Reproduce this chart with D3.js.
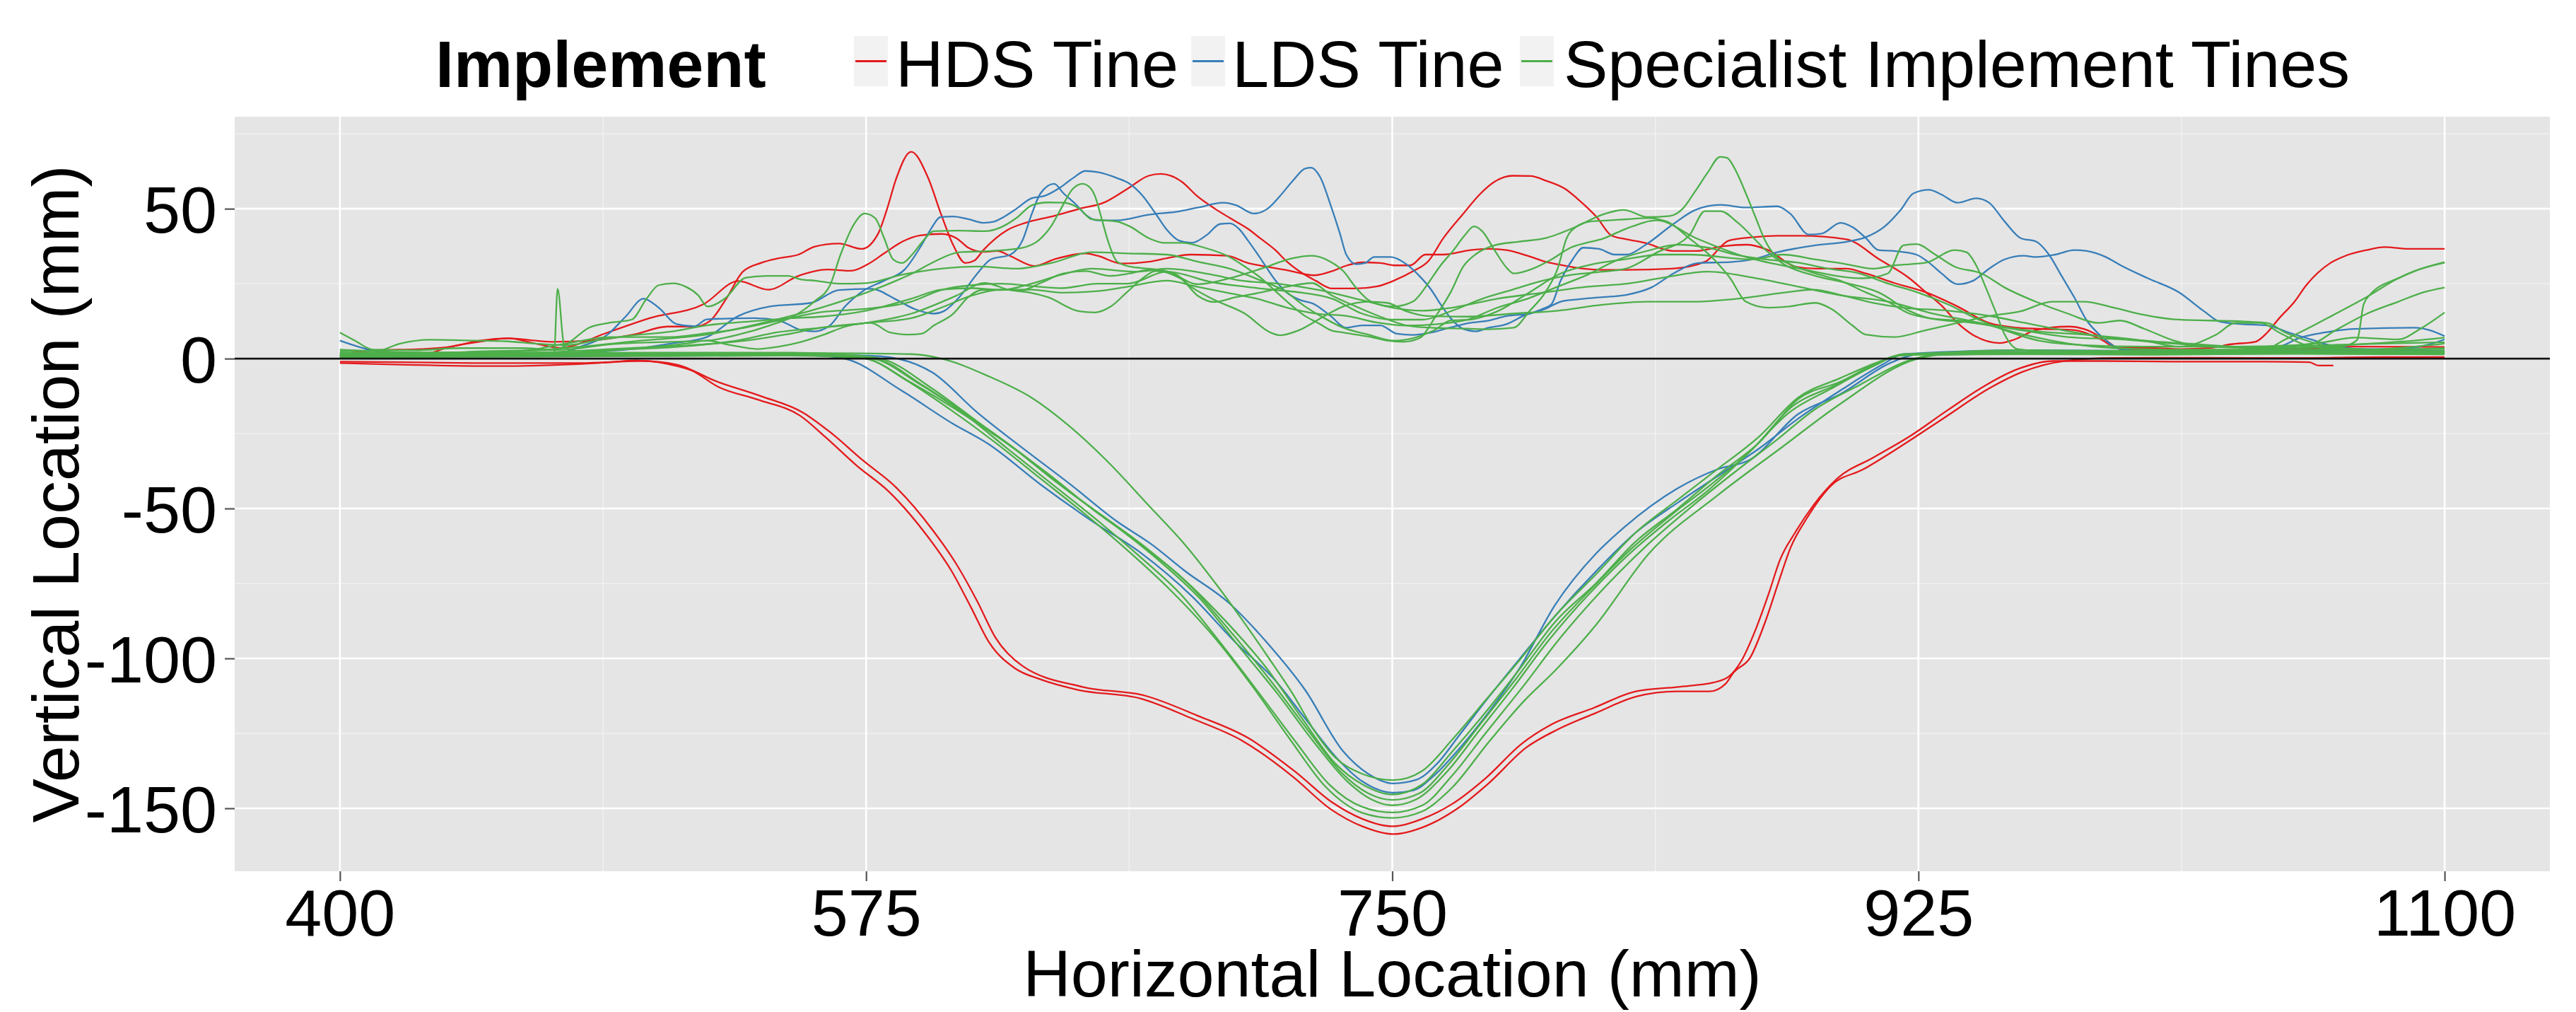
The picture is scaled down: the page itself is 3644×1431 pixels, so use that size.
<!DOCTYPE html>
<html><head><meta charset="utf-8">
<script src="https://cdnjs.cloudflare.com/ajax/libs/d3/7.8.5/d3.min.js"></script>
<style>body{margin:0;background:#fff}svg{display:block}</style>
</head><body><svg id="chart" width="3644" height="1431"></svg>
<script>
// ---------------- DATA ----------------
const implementNames = ["HDS Tine", "LDS Tine", "Specialist Implement Tines"];
const implementColors = ["#E41A1C", "#377EB8", "#4DAF4A"];
const xTicks = [400, 575, 750, 925, 1100];
const xMinor = [487.5, 662.5, 837.5, 1012.5];
const yTicks = [-150, -100, -50, 0, 50];
const yMinor = [-125, -75, -25, 25, 75];

// HDS Tine – soil surface profiles [horizontal mm, vertical mm]
const hdsSurfaceA = [[400,1.3],[412,2.8],[427,3.2],[437,4],[446.5,6],[456,6.8],[465,6],[471,5.6],[483,6],[497.6,8],[509,10.7],[518,10.7],[523,12.5],[528.5,20],[534,29],[540,31.9],[546,33.5],[552.5,34.7],[558,37.4],[566,38.4],[573.5,36.6],[579,41.7],[582,50],[585,60],[590,69],[595.5,60.6],[600,48],[604,37.8],[608,31.9],[611,32.7],[614,36.2],[622,42.9],[628,45.3],[637.5,47.6],[646,50],[654,52],[662,56.7],[669,61],[673,61.6],[680,59],[685,54.3],[691,50],[696,46.9],[702,43.3],[706,40.2],[711,36.3],[715,32.3],[719,29.2],[724.5,26],[730,23.4],[738,23.4],[745,24.1],[750.5,26],[757,29.2],[762,32.5],[767,40.2],[774,48.8],[779,54.7],[784,59],[790,61],[796,60.9],[801,59.4],[808,56.3],[811.4,53.5],[818,47.2],[823,41],[828,39.8],[834,38.6],[843.5,35.9],[851,35.9],[860,37.5],[868,38],[875,36.2],[884,30.7],[891,30],[901,30],[907.5,28.4],[917,25.2],[927.5,22.1],[938,17.4],[948.5,11.9],[958,10.3],[966,9.9],[977,9.5],[985.7,6.4],[991,3.6],[1001,3.6],[1012,3.2],[1022,3.6],[1029,4.8],[1037,5.6],[1041,8.7],[1045,13.5],[1050,18.9],[1054,24.5],[1062,31.9],[1067,34.3],[1074,36.2],[1080,37.2],[1088,36.6],[1100,36.6]];
const hdsSurfaceB = [[400,0.5],[415,1],[427,1.3],[437,4],[447,5.7],[456,6.8],[465,5],[473,3.6],[489,8.7],[503,13.5],[521,18.2],[532.5,25.9],[542.5,23],[552.5,27.6],[562,29.7],[570,29.3],[575.6,31.5],[581,35.1],[587,39],[593,41.1],[600,41.6],[605,40.2],[609,37],[614,35.6],[618.6,35.9],[622.8,34.3],[631,30.9],[637.5,33.1],[648,35.1],[652,34.3],[660,31.7],[669,32.3],[675,33.5],[683,34.7],[695,34.3],[702,31.9],[708,30.7],[715,29.5],[724,27.8],[730,29.2],[735,31.1],[740,32.1],[746,31.9],[751,31.1],[756,31.1],[761,34.7],[767,34.7],[776,36.2],[782,36.6],[788,36.2],[795,34.3],[801,32.3],[807,31.1],[813.5,30],[820,29.6],[828,29.6],[843,30],[854,32.3],[862,39.4],[870,40.5],[878,41],[886,41],[901,39.8],[912,33.1],[922,26.8],[927.5,22.1],[933,17.4],[938,11.9],[943,8],[952,5.2],[957,6.4],[964,9.5],[975,10.7],[980,9.9],[987,6.4],[992,3.2],[1000,2.8],[1020,2.5],[1040,2.8],[1060,3.5],[1070,4],[1100,3.9]];
// HDS Tine – furrow bottom profiles
const hdsFurrowA = [[400,-1.5],[420,-2],[450,-2.5],[470,-2.2],[490,-1.2],[498.5,-0.6],[509,-1.8],[517,-4],[525.8,-9.4],[539,-13.7],[553,-19],[561.5,-26.2],[572,-35.8],[582.5,-44.3],[595,-58.7],[603.4,-70.8],[609.8,-82.8],[616,-94.8],[624.5,-103.3],[633,-107],[645.5,-110.5],[666.4,-113.4],[683.3,-120],[700,-127.4],[716.9,-139.4],[729.4,-150.2],[740,-156],[750.4,-158.6],[761,-156],[771.5,-150.2],[782,-141.7],[794.6,-129.7],[805,-123.7],[817.7,-118.2],[831.2,-112.7],[844.7,-111],[855.5,-111],[860.8,-108.5],[863.6,-104.6],[869,-99.8],[874.4,-86.8],[878.4,-74.8],[882.5,-63],[887.9,-53.2],[895.9,-42.4],[906.7,-36.9],[918.9,-29.4],[933.8,-19.6],[948.6,-9.9],[959.4,-4.5],[974.3,-0.7],[990,0.2],[1020,0.3],[1050,0.2],[1080,0.5],[1100,0.5]];
const hdsFurrowB = [[400,-1],[420,-1.2],[450,-1.5],[480,-1.5],[500,-0.8],[512,-2],[525,-7.5],[540,-12.5],[554,-18],[563,-24.5],[574,-34],[585,-43],[597,-57],[605,-68.5],[612,-81],[618,-93],[627,-102.5],[647,-109.5],[668,-112.5],[685,-119],[702,-126.5],[718,-138],[730,-148],[740,-153.5],[750,-156],[760,-153.5],[770,-148.5],[781,-140],[793,-128.5],[803,-122],[817,-116.5],[831,-111],[845,-109.5],[857,-108],[862,-106],[866,-101],[871,-90],[875,-79],[879,-67],[884,-58],[890,-49],[898,-40],[910,-33],[922,-26],[935,-17],[948,-8.5],[958,-3.5],[970,-0.8],[985,-0.8],[1010,-1],[1040,-1],[1055,-1.2],[1058,-2.3],[1063,-2.3]];

// LDS Tine – soil surface profiles
const ldsSurfaceA = [[400,2],[430,1.2],[460,1],[480,2],[500,3.5],[510,5],[522,7.2],[532.5,14.2],[543,17.4],[556.7,18.6],[566,22.9],[576.6,23.3],[585,19.7],[591,16.6],[597.6,15],[600.8,15.8],[606,20.5],[612,28.4],[616.5,33.1],[623,34.7],[627,39.4],[630,48],[633,55.1],[637.5,58.3],[640.7,55.1],[645,51.2],[648,48],[652,46.1],[658.5,46.1],[669,48],[679.5,49.2],[685.4,50.4],[693.8,52],[698,51.2],[704,48.4],[708.5,50],[712.7,54.3],[717,59.4],[721,63.4],[723,63.7],[726,60.6],[729.5,51.2],[732.6,41.7],[734.7,34.7],[738,31.5],[741,31.9],[744,33.9],[749.4,33.9],[754.7,31.5],[759,27.6],[763,22.9],[766,18.2],[769.4,13.5],[773.6,9.9],[777.8,9.1],[782,10.3],[788,11.5],[793.5,14.2],[800,16.6],[803,18.2],[806,26],[810,33.1],[813.5,37],[818.7,36.6],[824,34.7],[828,34.7],[834,37.8],[843.5,44.9],[850.8,49.6],[859.2,51.3],[867.6,50.4],[878.1,50.8],[882.3,48.4],[888.6,41.4],[892.8,41.7],[899.1,45.3],[903.3,43.7],[907.5,40.2],[911.7,36.2],[917,35.9],[924.3,34.7],[928.5,32],[932.7,28.4],[938,24.8],[943.2,26],[948.5,30],[953.7,33.1],[960,34.3],[964.2,33.9],[970.5,34.7],[976.8,36.2],[981,35.9],[987.3,33.9],[992.3,31.1],[1001.3,26.8],[1011.7,22.1],[1020,15.8],[1025.3,12.3],[1032.6,11.5],[1040.9,11.1],[1048.2,8.7],[1055.5,6.4],[1063.8,4],[1074.2,3.2],[1084.6,3.2],[1095,4.8],[1100,6.4]];
const ldsSurfaceB = [[400,6],[406,4],[412,2.5],[430,1.5],[450,1.2],[470,1],[480,4],[489,8],[495,14],[501,20],[506,17],[512,11.5],[518,10.8],[522,13.1],[537.8,13.5],[546,12.7],[553.5,9.5],[557.7,9.1],[563,11.1],[568,17.4],[574.5,22.9],[581,26],[588,29.9],[593.4,37.8],[596.6,43.3],[599.7,47.2],[604,47.4],[609,46.5],[614,45.3],[617.6,45.7],[620.7,47.2],[625,50],[630,53.5],[634.4,54.3],[639.6,57.1],[643.8,60.2],[648,62.6],[652,62.2],[658.5,60.2],[662.7,58.3],[667,54.3],[671,48.8],[675,43],[679,39.4],[683.3,38.6],[688.5,41.4],[692.7,44.9],[696,45.1],[699,43.3],[702,39.4],[706.4,33.1],[710.6,26.8],[714.8,22.1],[719,19.7],[724,18.2],[729.5,14.2],[734.7,10.3],[740,11.1],[746,11.1],[751.5,8.3],[756.8,7.9],[763,8.7],[769,10.3],[775.7,11.9],[782,12.7],[788,14.2],[795.6,15],[801,16.6],[806,19],[811,19.7],[820,20.5],[828,21.3],[836.1,23.7],[843.5,28.4],[851.9,31.9],[862.4,32.2],[869.7,33.1],[878.1,35.5],[890.7,37.8],[901.2,39],[907.5,40.5],[913.8,44.1],[919.1,49.6],[923.3,55.1],[928.5,56.3],[932.7,54.7],[938,52],[944.3,53.5],[948.5,52],[953.7,45.7],[959,40.2],[964.2,39],[968.4,34.7],[972.6,27.6],[976.8,20.5],[981,12.7],[985.2,8],[992.3,3.2],[1000,2.5],[1030,2.5],[1045,4],[1052,7],[1060,8.7],[1070,9.9],[1090,10.3],[1095,9.5],[1100,7.5]];
// LDS Tine – furrow bottom profiles
const ldsFurrowA = [[400,0.5],[450,0.8],[500,1],[540,1.2],[558,1],[567.8,0],[586.7,-10.6],[603.5,-21.5],[616,-28.7],[632.9,-41.9],[649.7,-53.9],[666.4,-64.8],[683.3,-79.2],[698,-94.8],[710.6,-106.8],[721,-120],[731.6,-133.3],[740,-141],[750.4,-144.8],[757,-144],[764,-139],[771.5,-131],[782,-118],[792.5,-103],[804,-82.4],[817.7,-65.1],[827,-56.4],[844.7,-43.4],[858.2,-36.9],[869,-33.7],[885,-18.5],[898.7,-12],[916.2,-1.2],[925,1.5],[960,2],[1000,2.4],[1050,2.2],[1100,2]];
const ldsFurrowB = [[400,1],[450,1.1],[500,1.2],[560,1.3],[575,1],[582.5,0.5],[597,-4.6],[611.8,-17.8],[628.7,-31.1],[643,-42],[658,-54],[670,-62],[681,-70.8],[695.8,-81.6],[708.4,-94.8],[721,-110.5],[733.6,-130.9],[742,-138.5],[750.4,-141.7],[758,-140.5],[765,-135],[772,-126],[782,-113],[792.5,-100],[804,-86],[817.7,-71],[831,-58],[845,-48],[860,-38],[872,-30],[885,-20],[900,-10],[913,-2],[920,1.5],[960,2.8],[1000,2.6],[1050,2.8],[1100,2.6]];

// Specialist Implement Tines – soil surface profiles
const sitSurfaceA = [[400,1],[425,1.5],[450,2.5],[475,3],[490,4.8],[510,5.6],[522,6],[532.5,8],[543,11.1],[551,14.2],[557.7,19],[563,24.5],[566.5,34.7],[571,44.9],[574.5,48.4],[578,46.9],[581,40.2],[584,33.1],[587,31.9],[590.3,34.7],[593.4,38.6],[597.6,42.5],[606,42.7],[614.4,42.5],[619.6,43.7],[625,46.9],[630.2,51.2],[635.4,52.1],[640.7,52],[646,50],[650,46.5],[654.3,46.1],[658.5,45.7],[662.7,44.1],[669,40.2],[674.3,38.6],[680,38.6],[687.5,37],[695.9,33.9],[701,30.7],[706.4,26.8],[711.6,22.1],[716.9,17.4],[721,14.2],[725.3,11.9],[729.5,9.5],[733.7,8.7],[738,8],[743,7.2],[748.4,6],[753.6,5.6],[759,6.8],[764.5,14.2],[769.4,22.1],[773.6,30.7],[778,35],[784,37.8],[792,39],[801,40.2],[811.4,44.1],[819.8,48],[827,49.6],[835,47.2],[842.4,47.6],[846.6,50],[850.8,55.9],[855,62.2],[859,67.3],[861.3,67],[864.5,62.2],[867.6,55.1],[870.8,47.2],[874,39.4],[877,34.7],[882.3,31.5],[890.7,28.4],[899,26],[907.5,22.1],[914.8,19],[922,15],[928.5,13.5],[938,12.7],[950,11],[965,9],[980,8],[1000,6],[1011.7,4],[1024,8],[1030.5,11.9],[1038.8,11.9],[1045,8.7],[1053,4.8],[1060,3.5],[1080,3],[1100,3.5]];
const sitSurfaceB = [[400,3],[430,2],[460,2.5],[480,4],[500,6],[522,8],[545,13],[560,17],[575,22],[585,26],[590.3,28.4],[597.6,32.3],[606,35.5],[616.5,35.9],[627,37],[632.3,39.4],[636.5,44.1],[639.6,49.6],[643.8,56.7],[647,58.3],[649,57.5],[651.1,54.3],[653.2,47.2],[655.4,39.4],[658.5,32.3],[662.7,30.7],[669,30],[674.9,29.2],[685.4,24.8],[695.9,26.8],[706.4,30],[716.9,33.5],[723.2,34.3],[729.5,32.3],[733.7,29.2],[737.9,23.7],[743,19],[750.5,17.4],[756.8,19],[762,25.2],[766,31],[770.4,36.2],[774,41],[777.2,44.1],[779.9,42.5],[784,36.2],[788.3,30],[790.4,28.4],[796.7,30],[803,33.1],[809.3,37],[814.5,38.6],[820,40],[827.7,43.3],[838,46.1],[851,40.2],[867.6,33.9],[885.5,30],[906.5,26.8],[914.8,28.4],[920,37.8],[924.3,38.2],[930.6,34.7],[937,30.7],[946,28.4],[953.7,23.7],[964,19],[974.7,15],[985,11.9],[992,12.7],[1000,10],[1010,6],[1020,4],[1040,3.5],[1060,4],[1075,5],[1090,6],[1100,7]];
const sitSurfaceC = [[400,8.7],[405,6],[411,3],[425,2.8],[440,3.5],[460,3.5],[472,3],[477,6],[482.8,10.3],[489.4,11.9],[497,13],[502,20],[506,24.5],[510.8,25.1],[515,24],[519,21.3],[522.3,17.4],[528,20],[535,27],[542,27.6],[549,27.6],[553,26.5],[558,26],[566,25],[575,25.2],[587,28],[600,30],[612,30.7],[625,30],[637,32],[650,35.5],[662,35.1],[674.9,34.7],[685.4,32.3],[695.9,30],[706.4,26],[713.7,22.9],[721,17.4],[727.4,13.5],[733.7,10.3],[742,8],[750.5,6],[756.8,6.8],[764,9.5],[769.4,12.7],[775.7,13],[785,15.8],[795.6,22.1],[806,28.4],[816.6,31.5],[827,33.1],[839.5,34.7],[848.7,34.7],[869.7,33.1],[880,34.7],[890.7,33.1],[901,31.5],[909.6,30],[917,31.1],[927.5,32],[937,36.2],[941,35.5],[944,31.5],[947.4,23.7],[950.6,15.8],[953.7,8],[958,3.2],[975,2],[1000,2],[1038.8,2.5],[1047,6.4],[1053.4,9.5],[1063.8,15],[1074,20.5],[1084.6,26.8],[1090,29.2],[1100,32.2]];
const sitSurfaceD = [[400,1.5],[425,1],[450,1.5],[468,2],[471.2,1.5],[472.4,23.3],[474.5,4.8],[477,2.5],[490,3],[505,3.5],[522,4.8],[532,6],[545,8.7],[560,10.3],[575,11.9],[590,15],[605,21],[614.4,25.2],[622.8,22.9],[629,22.1],[635.4,20.5],[645.9,15.8],[651.2,15.4],[656.4,17.4],[661.7,22.1],[667,26.8],[671.2,29.2],[677.4,28.4],[683,24],[690.6,19.7],[701,15],[709.5,8.7],[712.7,7.8],[719,9.5],[727.4,14.2],[733.7,17.4],[742.1,19],[748.4,18.6],[754.7,15.8],[762,14.2],[775,14],[790,15],[805,16],[820,18],[835,19],[850,19],[865,20],[880,22],[890,23],[900,21],[910,18.6],[920,17],[935,16],[950,14],[960,12],[970,10],[985,7.5],[1000,6],[1015,5],[1030,4],[1040,3.5],[1055.5,4.8],[1063.8,9.5],[1074.2,15],[1084.6,19],[1092.9,22.1],[1100,23.7]];
const sitSurfaceE = [[400,1],[430,1.8],[460,2.5],[475,5],[490,7.2],[510,7.2],[522,8.5],[530,9.5],[545,12.5],[560,15.5],[575,16.6],[590,19],[600,22.9],[610,24.5],[620,25],[632,24],[640,23.5],[652,25],[662,25],[675,29],[690,25.5],[701,24],[710,23],[720,22],[730,20],[740,15],[750,13],[760,13],[770,16],[780,20],[790,23],[800,26],[810,28],[820,29],[827.7,30],[838.2,35.5],[848.7,41],[854,49.2],[859.2,49.2],[864.5,45.7],[875,35.5],[880.2,31.5],[890.7,27.6],[901.2,25.2],[911.7,22.1],[922.2,15.8],[928.5,13.5],[943.2,11.9],[959,9.5],[974.7,7.2],[992.3,6.4],[1010,5],[1030,4],[1050,4.5],[1060,5.5],[1070,7],[1084.6,6.4],[1092,10],[1100,15.4]];
const sitSurfaceF = [[400,1],[430,1.5],[460,1.8],[490,3.2],[505,4],[515,5],[522,6],[530,4.5],[538.8,3.2],[546,4],[553.5,5.6],[561,8],[568.2,10.7],[576.6,11.9],[583,8.7],[589,8],[593.4,8.3],[597.6,11.1],[604,15],[609,20.5],[613.4,22.9],[620,23],[627,22.9],[633,25.2],[640.7,28.4],[648,29.2],[656,27.6],[662.7,28.4],[669,29.6],[679.5,26.8],[685.4,20.9],[690.6,18.9],[698,20.5],[706.4,22.1],[715,24],[723.2,25.2],[730,21],[737.9,17.4],[746,14],[754.7,11.1],[763,10.3],[775,10],[782,9.8],[790.4,10.3],[795.6,15.8],[800.9,22.1],[805,30],[808,40.2],[811.4,44.1],[815.6,45.7],[822,46.1],[828,46.5],[835,46.9],[841.4,45.7],[848.7,40.2],[857,33.1],[862.4,26.8],[867.6,19],[875,17],[882,17.4],[890.7,18.6],[896,16.6],[903,11.1],[907.5,8],[917,7.2],[927.5,9.5],[938,11.9],[948.5,14.2],[959,15.8],[969.5,19],[980,19],[990,17],[1000,14.6],[1010,13.1],[1022,12.7],[1035,12.3],[1041,11.9],[1047,8.7],[1053,6.4],[1062,4],[1075,3],[1090,4],[1100,5]];
const sitSurfaceG = [[400,2.5],[412,2.5],[420,5],[430,6.3],[445,6],[455,5.8],[465,5],[475,4.5],[485,6],[495,7.5],[510,9],[522,11.1],[537.8,12.5],[550,13.5],[560,14],[575,16],[590,20],[600,23],[610,23.5],[620,22.9],[630,25],[640,28],[650,30],[665,29],[675,30],[690,28],[700,26],[712,25],[725,23],[740,19.5],[750,17],[760,16],[770,17],[785,20],[800,22],[815,24],[828,25],[840,27],[855,29],[870,27],[885,24],[900,21],[915,19],[930,15],[945,12],[960,8],[975,5],[990,3.5],[1010,3],[1030,3],[1050,3.5],[1065,4],[1069,5],[1071,6.4],[1073.1,18.2],[1075.2,21.3],[1085,27],[1090,29.2],[1100,32]];
const sitSurfaceH = [[400,2],[420,1.5],[440,1.2],[460,1.5],[480,2],[500,3.5],[522,4.8],[535,6],[548,8],[560,10.3],[575,11.9],[590,13.5],[600,17],[610,21],[620,23],[630,23],[640,22],[652,22.5],[662,24],[675,26],[685,24],[695,22],[705,20],[715,17],[725,15],[735,14.2],[745,12],[755,11],[765,11.5],[775,13],[785,17],[795,20],[805,24],[815,28],[825,33],[835,36],[845,38],[855,37],[865,34.5],[875,33],[885,32],[895,30],[905,28.5],[915,25],[925,22],[935,18],[945,13],[955,9],[965,6],[980,4.5],[1000,4],[1020,4],[1040,4],[1060,4.5],[1080,5],[1100,5.5]];
// Specialist Implement Tines – furrow bottom profiles
const sitFurrowA = [[400,1],[450,1.2],[500,1.5],[560,1.8],[590,1.5],[599.3,0.2],[616,-6],[630,-13],[642,-22],[655,-34],[669,-49],[681,-62],[692,-76],[700,-87],[709,-100],[717,-112],[724,-124],[731,-133],[740,-138.5],[750.4,-140.6],[760,-137.5],[770,-127],[781,-114],[792,-101],[804,-86],[817.7,-72],[831,-58],[845,-47],[858,-37],[872,-26],[885,-13],[899,-6.5],[912,-1],[920,1.5],[960,2.2],[1000,2],[1050,2.5],[1100,2.5]];
const sitFurrowB = [[400,1.2],[450,1.5],[500,1.8],[550,1.6],[565,1],[575,0],[590,-8],[605,-17],[620,-27],[635,-38],[650,-50],[665,-61],[680,-73],[695,-88],[708,-103],[720,-120],[731,-135],[740,-142],[750,-145.4],[760,-142],[770,-131],[781,-118],[792,-104],[804,-88],[817.7,-75],[831,-61],[845,-50],[858,-39],[872,-28],[885,-13.5],[899,-7.7],[912,-1.2],[920,1.2],[960,1.8],[1000,1.5],[1050,1.8],[1100,1.5]];
const sitFurrowC = [[400,0.6],[450,0.8],[500,1],[550,1.2],[568,0.8],[578,0],[594,-9],[609,-19],[623,-29],[638,-41],[653,-52],[668,-63],[683,-76],[697,-92],[710,-108],[722,-124],[733,-138],[742,-145],[750,-147.2],[759,-145],[769,-135],[780,-121],[791,-107],[803,-91],[816,-77],[830,-63],[843,-52],[856,-42],[870,-30],[883,-16],[897,-9],[911,-2],[918,1],[960,2.8],[1000,2.5],[1050,3],[1100,3.2]];
const sitFurrowD = [[400,1.5],[450,1.8],[500,2],[550,2],[570,1.2],[580,0],[597,-10],[612,-21],[627,-32],[642,-44],[657,-55],[672,-67],[686,-80],[699,-96],[712,-112],[724,-128],[735,-141],[743,-147],[750,-149],[758,-147],[768,-138],[779,-124],[790,-110],[802,-94],[815,-79],[829,-65],[842,-54],[855,-44],[868,-32],[882,-18],[896,-10],[910,-2.5],[918,1],[960,2],[1000,2.2],[1050,2],[1100,2.2]];
const sitFurrowE = [[400,0.4],[450,0.6],[500,0.8],[550,1],[567,0.6],[577,0],[592,-8],[607,-18],[622,-30],[637,-42],[652,-54],[666,-66],[680,-79],[693,-95],[706,-112],[718,-128],[729,-142],[740,-149.5],[750,-151.4],[760,-149],[770,-139],[781,-125],[793,-110],[806,-93],[820,-77],[835,-62],[850,-49],[865,-37],[878,-27],[890.6,-16.9],[905.4,-8.8],[921.6,-0.7],[930,1.2],[960,1.5],[1000,1.3],[1050,1.6],[1100,1.4]];
const sitFurrowF = [[400,1.8],[450,2.2],[500,1.5],[550,1.3],[566,0.8],[575,0],[588,-7],[603,-17],[618,-28],[633,-40],[648,-52],[662,-64],[676,-77],[690,-92],[704,-110],[716,-127],[728,-143],[740,-151.5],[750,-153.2],[760,-151],[770,-143],[782,-128],[794,-114],[804.2,-104],[817.7,-88.9],[835.3,-65.1],[858.2,-45.6],[879.8,-29.4],[898.7,-15.3],[924.4,-0.1],[935,1.5],[1000,1.8],[1050,2],[1100,1.8]];

const hdsProfiles = [hdsSurfaceA, hdsSurfaceB, hdsFurrowA, hdsFurrowB];
const ldsProfiles = [ldsSurfaceA, ldsSurfaceB, ldsFurrowA, ldsFurrowB];
const sitProfiles = [sitSurfaceA, sitSurfaceB, sitSurfaceC, sitSurfaceD, sitSurfaceE, sitSurfaceF, sitSurfaceG, sitSurfaceH,
                     sitFurrowA, sitFurrowB, sitFurrowC, sitFurrowD, sitFurrowE, sitFurrowF];

// ---------------- CHART ----------------
const W = 3644, H = 1431;
const panel = {left: 332, right: 3607, top: 165, bottom: 1232};
const FONT = "'Liberation Sans', Arial, Helvetica, sans-serif";
const FS = 93.5;

const svg = d3.select("#chart").attr("viewBox", `0 0 ${W} ${H}`);
svg.append("rect").attr("width", W).attr("height", H).attr("fill", "#fff");

const x = d3.scaleLinear().domain([365, 1135]).range([panel.left, panel.right]);
const y = d3.scaleLinear().domain([-171, 80.7]).range([panel.bottom, panel.top]);
const color = d3.scaleOrdinal().domain(implementNames).range(implementColors);

svg.append("defs").append("clipPath").attr("id", "clip")
  .append("rect").attr("x", panel.left).attr("y", panel.top)
  .attr("width", panel.right - panel.left).attr("height", panel.bottom - panel.top);

// panel background
svg.append("rect").attr("x", panel.left).attr("y", panel.top)
  .attr("width", panel.right - panel.left).attr("height", panel.bottom - panel.top)
  .attr("fill", "#E5E5E5");

const grid = svg.append("g");
grid.selectAll(".xmin").data(xMinor).join("line")
  .attr("x1", d => x(d)).attr("x2", d => x(d)).attr("y1", panel.top).attr("y2", panel.bottom)
  .attr("stroke", "#F2F2F2").attr("stroke-width", 1.3);
grid.selectAll(".ymin").data(yMinor).join("line")
  .attr("y1", d => y(d)).attr("y2", d => y(d)).attr("x1", panel.left).attr("x2", panel.right)
  .attr("stroke", "#F2F2F2").attr("stroke-width", 1.3);
grid.selectAll(".xmaj").data(xTicks).join("line")
  .attr("x1", d => x(d)).attr("x2", d => x(d)).attr("y1", panel.top).attr("y2", panel.bottom)
  .attr("stroke", "#FFFFFF").attr("stroke-width", 2.6);
grid.selectAll(".ymaj").data(yTicks).join("line")
  .attr("y1", d => y(d)).attr("y2", d => y(d)).attr("x1", panel.left).attr("x2", panel.right)
  .attr("stroke", "#FFFFFF").attr("stroke-width", 2.6);

// profiles
const series = [];
hdsProfiles.forEach(p => series.push({implement: implementNames[0], points: p}));
ldsProfiles.forEach(p => series.push({implement: implementNames[1], points: p}));
sitProfiles.forEach(p => series.push({implement: implementNames[2], points: p}));

const line = d3.line().x(d => x(d[0])).y(d => y(d[1])).curve(d3.curveMonotoneX);
svg.append("g").attr("clip-path", "url(#clip)")
  .selectAll("path").data(series).join("path")
  .attr("d", d => line(d.points))
  .attr("fill", "none")
  .attr("stroke", d => color(d.implement))
  .attr("stroke-width", 2.3)
  .attr("stroke-linejoin", "round");

// zero reference line
svg.append("line").attr("x1", panel.left).attr("x2", panel.right)
  .attr("y1", y(0)).attr("y2", y(0)).attr("stroke", "#111").attr("stroke-width", 2.6);

// axes
const xAxis = d3.axisBottom(x).tickValues(xTicks).tickSize(14).tickPadding(11).tickFormat(d3.format("d"));
const gx = svg.append("g").attr("transform", `translate(0,${panel.bottom})`).call(xAxis);
const yAxis = d3.axisLeft(y).tickValues(yTicks).tickSize(14).tickPadding(11).tickFormat(d => d < 0 ? "-" + Math.abs(d) : String(d));
const gy = svg.append("g").attr("transform", `translate(${panel.left},0)`).call(yAxis);
[gx, gy].forEach(g => {
  g.select(".domain").remove();
  g.selectAll(".tick line").attr("stroke", "#555").attr("stroke-width", 2.2);
  g.selectAll(".tick text").attr("fill", "#000").style("font-family", FONT).style("font-size", FS + "px");
});
gy.selectAll(".tick text").attr("dy", "0.36em");

// axis titles
svg.append("text").attr("x", (panel.left + panel.right) / 2).attr("y", 1409)
  .attr("text-anchor", "middle").style("font-family", FONT).style("font-size", FS + "px")
  .text("Horizontal Location (mm)");
svg.append("text").attr("transform", `translate(111,${(panel.top + panel.bottom) / 2}) rotate(-90)`)
  .attr("text-anchor", "middle").style("font-family", FONT).style("font-size", FS + "px")
  .text("Vertical Location (mm)");

// legend
const legend = svg.append("g");
legend.append("text").attr("x", 616).attr("y", 123)
  .style("font-family", FONT).style("font-size", FS + "px").style("font-weight", "bold")
  .text("Implement");
const keyX = [1208, 1685, 2150];
const labelX = [1267, 1743, 2212];
implementNames.forEach((name, i) => {
  legend.append("rect").attr("x", keyX[i]).attr("y", 51).attr("width", 48).attr("height", 71)
    .attr("fill", "#F2F2F2");
  legend.append("line").attr("x1", keyX[i] + 2).attr("x2", keyX[i] + 46)
    .attr("y1", 86.5).attr("y2", 86.5).attr("stroke", color(name)).attr("stroke-width", 3);
  legend.append("text").attr("x", labelX[i]).attr("y", 123)
    .style("font-family", FONT).style("font-size", FS + "px").text(name);
});
</script></body></html>
